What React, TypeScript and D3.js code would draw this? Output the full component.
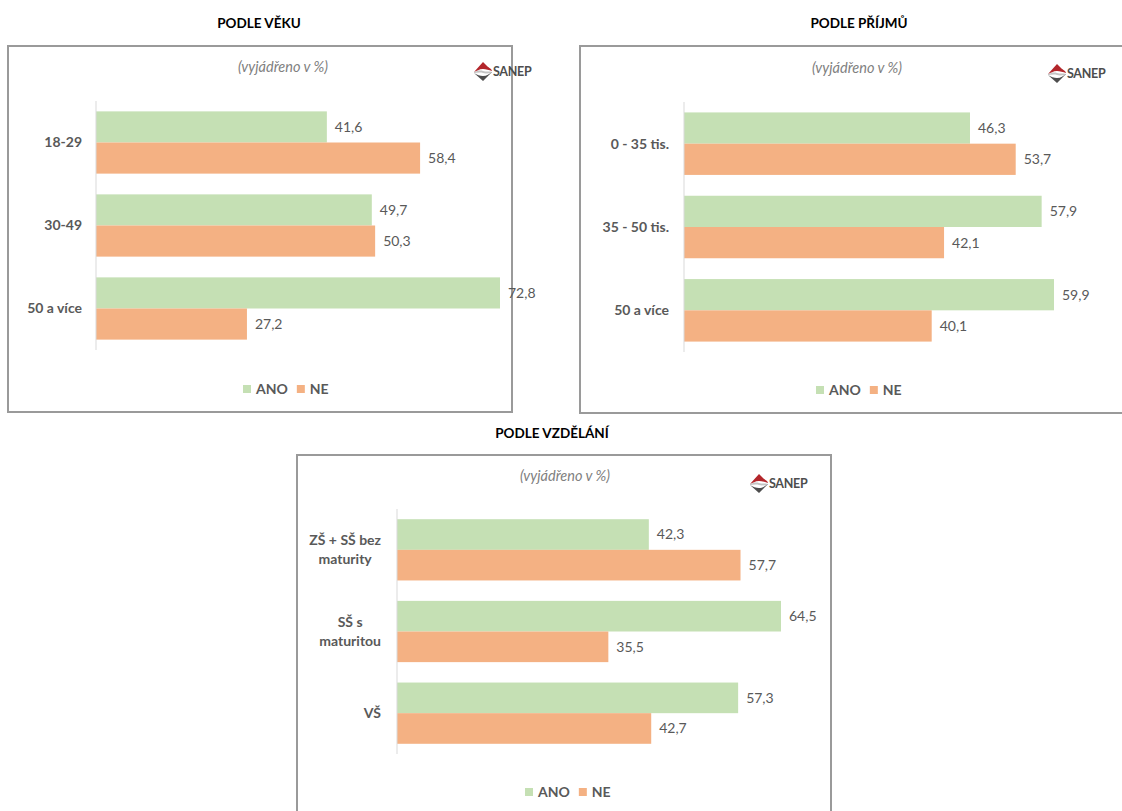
import { useEffect, useRef } from "react";
import * as d3 from "d3";

// --- data ---
const ageCats = ["18-29", "30-49", "50 a více"];
const ageAno = [41.6, 49.7, 72.8];
const ageNe = [58.4, 50.3, 27.2];

const incomeCats = ["0 - 35 tis.", "35 - 50 tis.", "50 a více"];
const incomeAno = [46.3, 57.9, 59.9];
const incomeNe = [53.7, 42.1, 40.1];

const eduCats = ["ZŠ + SŠ bez|maturity", "SŠ s|maturitou", "VŠ"];
const eduAno = [42.3, 64.5, 57.3];
const eduNe = [57.7, 35.5, 42.7];

const seriesNames = ["ANO", "NE"];
const colors = ["#C5E0B4", "#F4B183"];

const FONT = "Lato, Carlito, 'Open Sans', sans-serif";
const GREY = "#595959";

interface Panel {
  title: string;
  cats: string[];
  ano: number[];
  ne: number[];
  frame: [number, number, number, number];
  titleX: number;
  titleY: number;
  subX: number;
  subY: number;
  logoX: number;
  logoY: number;
  x0: number;
  x1: number;
  yTop: number;
  yBot: number;
  labelRight: number;
  legendX: number;
  legendY: number;
}

const panels: Panel[] = [
  {
    title: "PODLE VĚKU", cats: ageCats, ano: ageAno, ne: ageNe,
    frame: [8, 46, 504, 366], titleX: 259, titleY: 28, subX: 283, subY: 72,
    logoX: 483, logoY: 71, x0: 96, x1: 500, yTop: 101, yBot: 350,
    labelRight: 82, legendX: 243, legendY: 389,
  },
  {
    title: "PODLE PŘÍJMŮ", cats: incomeCats, ano: incomeAno, ne: incomeNe,
    frame: [580, 46, 560, 367], titleX: 859, titleY: 28, subX: 857, subY: 73,
    logoX: 1057, logoY: 73, x0: 684, x1: 1054, yTop: 102, yBot: 352,
    labelRight: 669, legendX: 816, legendY: 390,
  },
  {
    title: "PODLE VZDĚLÁNÍ", cats: eduCats, ano: eduAno, ne: eduNe,
    frame: [297, 455, 534, 380], titleX: 552, titleY: 438, subX: 565, subY: 481,
    logoX: 759, logoY: 483, x0: 397, x1: 781, yTop: 509, yBot: 754,
    labelRight: 381, legendX: 525, legendY: 792,
  },
];

function drawLogo(g: d3.Selection<SVGGElement, unknown, null, undefined>, cx: number, cy: number) {
  const lg = g.append("g").attr("transform", `translate(${cx},${cy})`);
  // red upper half
  lg.append("path")
    .attr("d", "M-9,1 L0,-9 L4,-5 C6,-3 9,-2 9,0 C6,-1 3,-2 0,-2 C-4,-2 -6,0 -9,1 Z")
    .attr("fill", "#B3262B");
  // grey lower half
  lg.append("path")
    .attr("d", "M9,1 L0,10 L-9,2 C-6,4 -3,5 0,5 C4,5 6,3 9,1 Z")
    .attr("fill", "#4D4D4D");
  lg.append("path")
    .attr("d", "M-9,1 C-6,0 -3,-1 0,0 C3,1 6,0 9,1 L9,2 C6,2 3,3 0,2 C-3,1 -6,2 -9,2 Z")
    .attr("fill", "#8a8a8a")
    .attr("opacity", 0.5);
  lg.append("text")
    .attr("x", 10)
    .attr("y", 5)
    .style("font", `bold 12.5px ${FONT}`)
    .style("fill", "#4D4D4D")
    .style("letter-spacing", "-0.3px")
    .text("SANEP");
}

export default function App() {
  const ref = useRef<SVGSVGElement | null>(null);

  useEffect(() => {
    const svg = d3.select(ref.current!);
    svg.selectAll("*").remove();

    panels.forEach((p) => {
      const g = svg.append("g");
      const [fx, fy, fw, fh] = p.frame;

      g.append("rect")
        .attr("x", fx).attr("y", fy).attr("width", fw).attr("height", fh)
        .attr("fill", "#fff")
        .attr("stroke", "#9a9a9a")
        .attr("stroke-width", 2);

      g.append("text")
        .attr("x", p.titleX).attr("y", p.titleY)
        .attr("text-anchor", "middle")
        .style("font", `bold 13.5px ${FONT}`)
        .style("fill", "#000")
        .text(p.title);

      g.append("text")
        .attr("x", p.subX).attr("y", p.subY)
        .attr("text-anchor", "middle")
        .style("font", `italic 14.5px ${FONT}`)
        .style("fill", "#7F7F7F")
        .text("(vyjádřeno v %)");

      drawLogo(g, p.logoX, p.logoY);

      const x = d3.scaleLinear()
        .domain([0, d3.max([...p.ano, ...p.ne])!])
        .range([p.x0, p.x1]);
      const y = d3.scaleBand<string>()
        .domain(p.cats)
        .range([p.yTop, p.yBot])
        .paddingInner(0.25)
        .paddingOuter(0.125);
      const inner = d3.scaleBand<string>()
        .domain(seriesNames)
        .range([0, y.bandwidth()]);

      const rows = p.cats.map((c, i) => ({ cat: c, vals: [p.ano[i], p.ne[i]] }));

      const grp = g.append("g")
        .selectAll("g")
        .data(rows)
        .join("g")
        .attr("transform", (d) => `translate(0,${y(d.cat)})`);

      grp.selectAll("rect")
        .data((d) => d.vals.map((v, k) => ({ v, k })))
        .join("rect")
        .attr("x", p.x0)
        .attr("y", (d) => inner(seriesNames[d.k])!)
        .attr("width", (d) => x(d.v) - p.x0)
        .attr("height", inner.bandwidth())
        .attr("fill", (d) => colors[d.k]);

      grp.selectAll("text.val")
        .data((d) => d.vals.map((v, k) => ({ v, k })))
        .join("text")
        .attr("class", "val")
        .attr("x", (d) => x(d.v) + 8)
        .attr("y", (d) => inner(seriesNames[d.k])! + inner.bandwidth() / 2)
        .attr("dy", "0.35em")
        .style("font", `14px ${FONT}`)
        .style("fill", GREY)
        .text((d) => d3.format(".1f")(d.v).replace(".", ","));

      // axis line
      g.append("line")
        .attr("x1", p.x0).attr("x2", p.x0)
        .attr("y1", p.yTop).attr("y2", p.yBot)
        .attr("stroke", "#D9D9D9")
        .attr("stroke-width", 1);

      // category labels (wrapped lines centred in a right-aligned block)
      rows.forEach((r) => {
        const lines = r.cat.split("|");
        const cy = y(r.cat)! + y.bandwidth() / 2;
        const lh = 19;
        const t = g.append("text")
          .style("font", `bold 14px ${FONT}`)
          .style("fill", GREY);
        const spans = lines.map((ln, i) =>
          t.append("tspan")
            .attr("y", cy + (i - (lines.length - 1) / 2) * lh)
            .attr("dy", "0.35em")
            .text(ln)
        );
        const widths = spans.map((s) => (s.node() as SVGTSpanElement).getComputedTextLength());
        const maxW = Math.max(...widths);
        const center = p.labelRight - maxW / 2;
        spans.forEach((s) => s.attr("x", center).attr("text-anchor", "middle"));
      });

      // legend
      const leg = g.append("g");
      let lx = p.legendX;
      seriesNames.forEach((name, k) => {
        leg.append("rect")
          .attr("x", lx).attr("y", p.legendY - 4)
          .attr("width", 8).attr("height", 8)
          .attr("fill", colors[k]);
        const tx = leg.append("text")
          .attr("x", lx + 13).attr("y", p.legendY)
          .attr("dy", "0.35em")
          .style("font", `bold 14px ${FONT}`)
          .style("fill", GREY)
          .text(name);
        lx += 13 + (tx.node() as SVGTextElement).getComputedTextLength() + 9;
      });
    });
  }, []);

  return (
    <svg
      ref={ref}
      width={1122}
      height={811}
      style={{ position: "absolute", left: 0, top: 0, background: "#fff" }}
    />
  );
}
